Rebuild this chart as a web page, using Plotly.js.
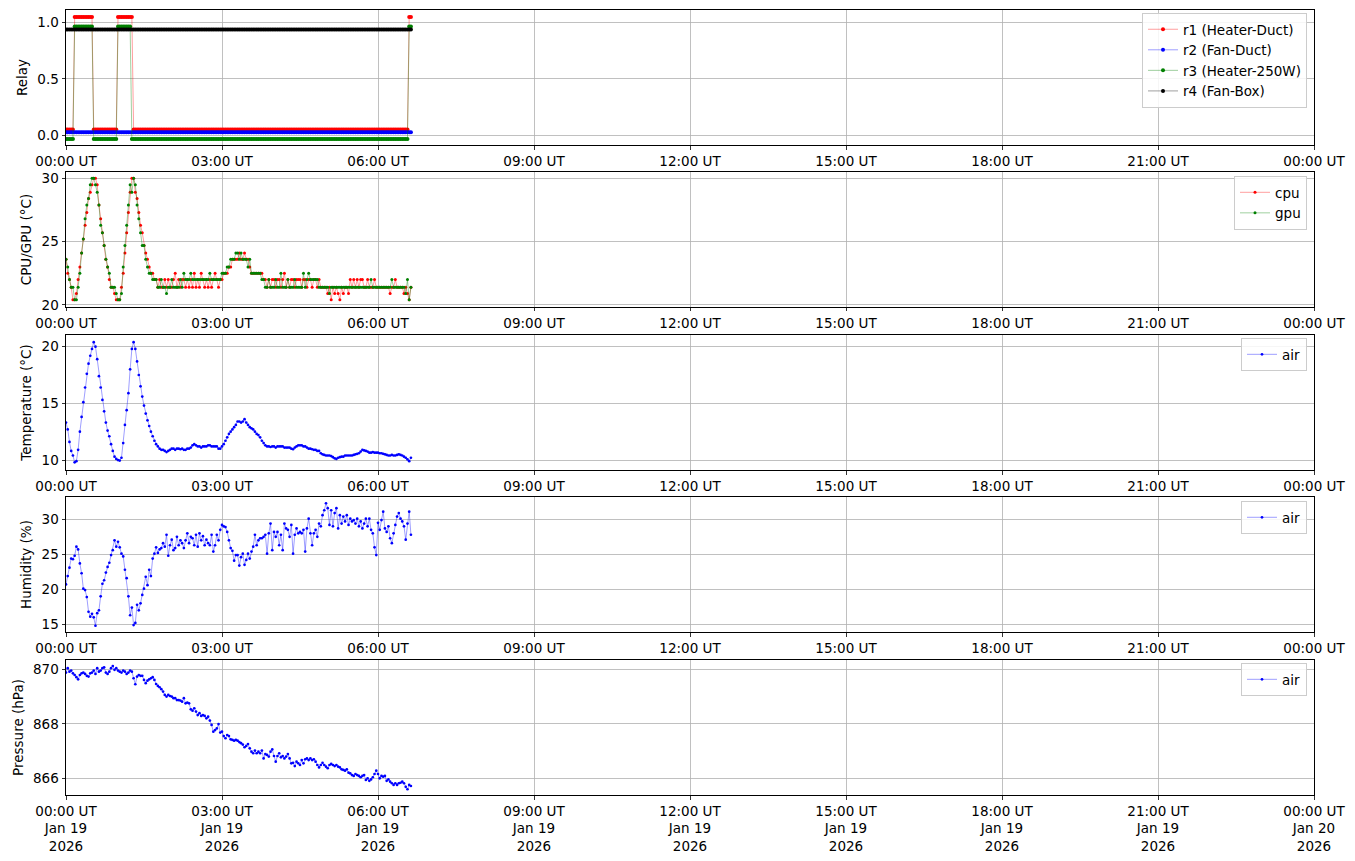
<!DOCTYPE html>
<html>
<head>
<meta charset="utf-8">
<script src="https://cdn.plot.ly/plotly-3.0.1.min.js"></script>
<style>
html,body{margin:0;padding:0;background:#fff;}
#chart{width:1355px;height:861px;}
</style>
</head>
<body>
<div id="chart"></div>
<script>
// ---- time base: one sample every 2 minutes from 2026-01-19 00:00 UT ----
const sampleStart = [2026, 0, 19, 0, 0];
const sampleStepMinutes = 2;
const sampleCount = 200;

// ---- x-axis ticks ----
const tickTimes = ['2026-01-19 00:00','2026-01-19 03:00','2026-01-19 06:00','2026-01-19 09:00','2026-01-19 12:00','2026-01-19 15:00','2026-01-19 18:00','2026-01-19 21:00','2026-01-20 00:00'];
const tickClock = ['00:00 UT','03:00 UT','06:00 UT','09:00 UT','12:00 UT','15:00 UT','18:00 UT','21:00 UT','00:00 UT'];
const tickDay = ['Jan 19','Jan 19','Jan 19','Jan 19','Jan 19','Jan 19','Jan 19','Jan 19','Jan 20'];
const tickYear = ['2026','2026','2026','2026','2026','2026','2026','2026','2026'];

// ---- relay states (0 = off, 1 = on) ----
const relayR1 = [
0,0,0,0,0,1,1,1,1,1,1,1,1,1,1,1,0,0,0,0,
0,0,0,0,0,0,0,0,0,0,1,1,1,1,1,1,1,1,1,0,
0,0,0,0,0,0,0,0,0,0,0,0,0,0,0,0,0,0,0,0,
0,0,0,0,0,0,0,0,0,0,0,0,0,0,0,0,0,0,0,0,
0,0,0,0,0,0,0,0,0,0,0,0,0,0,0,0,0,0,0,0,
0,0,0,0,0,0,0,0,0,0,0,0,0,0,0,0,0,0,0,0,
0,0,0,0,0,0,0,0,0,0,0,0,0,0,0,0,0,0,0,0,
0,0,0,0,0,0,0,0,0,0,0,0,0,0,0,0,0,0,0,0,
0,0,0,0,0,0,0,0,0,0,0,0,0,0,0,0,0,0,0,0,
0,0,0,0,0,0,0,0,0,0,0,0,0,0,0,0,0,0,1,1];
const relayR2 = [
0,0,0,0,0,0,0,0,0,0,0,0,0,0,0,0,0,0,0,0,
0,0,0,0,0,0,0,0,0,0,0,0,0,0,0,0,0,0,0,0,
0,0,0,0,0,0,0,0,0,0,0,0,0,0,0,0,0,0,0,0,
0,0,0,0,0,0,0,0,0,0,0,0,0,0,0,0,0,0,0,0,
0,0,0,0,0,0,0,0,0,0,0,0,0,0,0,0,0,0,0,0,
0,0,0,0,0,0,0,0,0,0,0,0,0,0,0,0,0,0,0,0,
0,0,0,0,0,0,0,0,0,0,0,0,0,0,0,0,0,0,0,0,
0,0,0,0,0,0,0,0,0,0,0,0,0,0,0,0,0,0,0,0,
0,0,0,0,0,0,0,0,0,0,0,0,0,0,0,0,0,0,0,0,
0,0,0,0,0,0,0,0,0,0,0,0,0,0,0,0,0,0,0,0];
const relayR3 = [
0,0,0,0,0,1,1,1,1,1,1,1,1,1,1,1,0,0,0,0,
0,0,0,0,0,0,0,0,0,0,1,1,1,1,1,1,1,1,0,0,
0,0,0,0,0,0,0,0,0,0,0,0,0,0,0,0,0,0,0,0,
0,0,0,0,0,0,0,0,0,0,0,0,0,0,0,0,0,0,0,0,
0,0,0,0,0,0,0,0,0,0,0,0,0,0,0,0,0,0,0,0,
0,0,0,0,0,0,0,0,0,0,0,0,0,0,0,0,0,0,0,0,
0,0,0,0,0,0,0,0,0,0,0,0,0,0,0,0,0,0,0,0,
0,0,0,0,0,0,0,0,0,0,0,0,0,0,0,0,0,0,0,0,
0,0,0,0,0,0,0,0,0,0,0,0,0,0,0,0,0,0,0,0,
0,0,0,0,0,0,0,0,0,0,0,0,0,0,0,0,0,0,1,1];
const relayR4 = [
1,1,1,1,1,1,1,1,1,1,1,1,1,1,1,1,1,1,1,1,
1,1,1,1,1,1,1,1,1,1,1,1,1,1,1,1,1,1,1,1,
1,1,1,1,1,1,1,1,1,1,1,1,1,1,1,1,1,1,1,1,
1,1,1,1,1,1,1,1,1,1,1,1,1,1,1,1,1,1,1,1,
1,1,1,1,1,1,1,1,1,1,1,1,1,1,1,1,1,1,1,1,
1,1,1,1,1,1,1,1,1,1,1,1,1,1,1,1,1,1,1,1,
1,1,1,1,1,1,1,1,1,1,1,1,1,1,1,1,1,1,1,1,
1,1,1,1,1,1,1,1,1,1,1,1,1,1,1,1,1,1,1,1,
1,1,1,1,1,1,1,1,1,1,1,1,1,1,1,1,1,1,1,1,
1,1,1,1,1,1,1,1,1,1,1,1,1,1,1,1,1,1,1,1];
const relayNames = ['r1 (Heater-Duct)','r2 (Fan-Duct)','r3 (Heater-250W)','r4 (Fan-Box)'];

// ---- CPU / GPU temperature (°C) ----
const cpuTemp = [
23.6,22.5,22.0,21.4,20.4,20.4,20.9,22.0,23.0,24.1, 25.2,26.3,27.3,28.4,28.9,29.5,30.0,30.0,29.5,27.9,
26.8,25.7,24.7,23.6,23.0,22.0,21.4,21.4,20.9,20.4, 20.4,20.4,21.4,22.5,24.1,25.7,27.3,28.9,30.0,30.0,
28.9,28.4,27.3,26.3,25.7,24.7,24.1,23.6,23.0,22.5, 22.5,22.0,22.0,21.4,22.0,21.4,21.4,22.0,21.4,22.0,
21.4,21.4,22.0,22.5,21.4,22.0,21.4,22.0,22.0,21.4, 22.0,21.4,22.0,21.4,22.5,21.4,22.0,21.4,22.5,22.0,
21.4,22.0,21.4,22.0,21.4,22.0,22.5,22.0,21.4,22.0, 22.0,22.5,22.5,22.5,23.0,23.0,23.6,23.6,23.6,23.6,
24.1,23.6,23.6,24.1,23.6,23.6,23.0,22.5,22.5,22.5, 22.5,22.5,22.5,22.5,22.0,22.0,21.4,22.0,21.4,22.0,
22.0,21.4,22.0,22.0,21.4,22.0,22.5,21.4,22.0,21.4, 22.0,22.0,21.4,22.0,22.0,22.0,21.4,22.0,22.0,21.4,
22.0,22.0,21.4,22.0,22.0,21.4,22.0,21.4,21.4,21.4, 21.4,20.9,21.4,20.4,21.4,20.9,21.4,20.9,20.4,21.4,
20.9,21.4,21.4,20.9,22.0,21.4,22.0,21.4,22.0,21.4, 22.0,22.0,21.4,21.4,22.0,21.4,21.4,21.4,22.0,21.4,
21.4,21.4,21.4,21.4,21.4,21.4,21.4,20.9,21.4,21.4, 22.0,21.4,21.4,21.4,21.4,20.9,21.4,20.9,20.4,21.4];
const gpuTemp = [
23.6,23.0,22.0,21.4,21.4,20.4,20.4,21.4,22.5,24.1, 25.2,26.8,27.9,28.4,29.5,30.0,30.0,29.5,28.9,27.9,
26.3,25.7,24.7,23.6,23.0,22.5,21.4,21.4,21.4,20.9, 20.4,20.4,20.9,23.0,24.7,26.3,27.9,29.5,28.9,30.0,
29.5,27.9,26.8,25.7,24.7,24.7,23.6,23.0,22.5,22.5, 22.0,22.0,22.0,21.4,21.4,22.0,21.4,21.4,20.9,21.4,
21.4,22.0,21.4,21.4,21.4,21.4,22.0,21.4,22.5,22.0, 22.0,22.0,22.5,22.0,22.0,22.0,22.0,22.0,22.0,22.0,
22.0,22.0,22.0,22.5,22.0,22.0,22.0,22.0,22.0,22.0, 22.5,22.5,22.5,23.0,23.0,23.6,23.6,23.6,24.1,24.1,
23.6,24.1,23.6,23.6,23.6,23.0,23.6,22.5,22.5,22.5, 22.5,22.5,22.5,22.0,22.0,21.4,21.4,22.0,21.4,21.4,
21.4,22.0,21.4,21.4,22.5,21.4,21.4,21.4,22.0,21.4, 21.4,21.4,22.0,21.4,21.4,21.4,21.4,22.5,21.4,22.0,
22.5,22.0,22.0,22.0,22.0,22.0,21.4,21.4,21.4,21.4, 21.4,21.4,20.9,21.4,21.4,21.4,21.4,21.4,21.4,21.4,
21.4,21.4,21.4,21.4,21.4,21.4,21.4,21.4,21.4,21.4, 21.4,21.4,21.4,21.4,21.4,21.4,22.0,21.4,21.4,21.4,
21.4,21.4,21.4,21.4,21.4,21.4,21.4,21.4,22.0,21.4, 21.4,21.4,21.4,21.4,21.4,21.4,20.9,22.0,20.4,21.4];

// ---- air temperature (°C) ----
const airTemp = [
13.3,12.7,11.6,10.8,10.4,9.8,9.9,10.9,12.5,13.8, 15.1,16.4,17.6,18.5,19.2,19.8,20.4,20.0,18.9,17.4,
16.4,15.3,14.3,13.3,12.6,12.1,11.4,10.8,10.3,10.1, 10.0,9.95,10.2,11.5,13.1,14.4,15.9,18.0,19.8,20.4,
19.8,18.7,17.5,16.5,15.6,14.8,14.1,13.5,13.0,12.5, 12.1,11.7,11.4,11.2,11.0,10.9,10.9,10.8,10.7,10.8,
10.9,11.0,11.0,10.9,11.0,11.0,10.95,11.0,10.9,10.9, 11.0,11.0,11.1,11.3,11.4,11.3,11.2,11.2,11.1,11.2,
11.2,11.2,11.3,11.3,11.2,11.2,11.2,11.2,11.0,11.0, 11.2,11.4,11.7,12.0,12.3,12.5,12.7,12.9,13.1,13.4,
13.4,13.3,13.4,13.6,13.3,13.1,12.9,12.8,12.7,12.5, 12.3,12.2,12.0,11.7,11.5,11.3,11.2,11.2,11.15,11.2,
11.2,11.1,11.2,11.2,11.2,11.2,11.1,11.1,11.1,11.1, 11.0,10.95,11.1,11.2,11.3,11.3,11.3,11.2,11.2,11.1,
11.0,11.0,10.95,10.9,10.9,10.8,10.8,10.6,10.5,10.45, 10.4,10.4,10.4,10.35,10.25,10.15,10.1,10.2,10.25,10.3,
10.3,10.4,10.4,10.4,10.4,10.4,10.45,10.5,10.55,10.6, 10.75,10.9,10.85,10.8,10.75,10.65,10.65,10.7,10.65,10.65,
10.65,10.6,10.6,10.55,10.5,10.45,10.4,10.4,10.45,10.4, 10.4,10.45,10.5,10.45,10.4,10.3,10.2,10.05,9.9,10.2];

// ---- air humidity (%) ----
const airHumidity = [
20.7,21.9,23.1,24.4,24.3,24.8,26.1,25.7,23.7,22.3, 20.1,19.9,18.9,16.8,16.1,16.5,16.0,14.8,16.6,17.0,
19.0,20.8,21.3,22.4,23.2,23.8,24.9,25.6,27.0,26.1, 26.8,26.0,25.1,24.7,22.8,21.6,19.0,16.3,17.4,14.9,
15.2,17.8,17.0,18.0,19.2,20.1,21.8,20.6,22.8,21.9, 24.4,25.1,26.0,25.2,25.7,25.9,26.6,26.1,27.8,24.8,
26.3,27.1,25.6,25.9,27.5,26.3,27.0,26.6,25.9,27.0, 28.0,26.6,27.5,27.3,26.3,27.8,26.1,28.0,27.0,27.6,
26.3,27.1,26.6,26.3,27.8,25.4,26.3,27.8,27.0,28.5, 29.2,29.0,28.9,28.2,27.0,25.9,25.5,24.1,24.9,24.9,
23.4,24.6,25.1,23.5,24.2,25.1,24.4,25.4,26.1,27.8, 26.3,27.0,27.3,27.3,27.5,27.8,25.1,28.0,29.4,25.6,
28.2,27.5,28.2,26.3,27.8,25.6,29.4,28.7,28.5,27.5, 29.2,25.1,27.8,28.7,28.0,28.2,28.0,28.5,25.4,28.7,
30.1,28.0,26.3,28.0,28.5,27.5,29.4,29.0,30.6,31.3, 32.3,31.6,29.2,31.3,29.0,30.9,31.6,28.7,30.6,29.4,
30.4,29.7,30.6,29.2,30.1,29.7,29.9,29.4,30.1,29.0, 29.7,28.7,29.4,30.1,29.0,30.1,28.5,28.0,26.0,24.9,
29.5,28.5,29.9,31.1,28.7,28.2,29.0,27.3,26.6,28.0, 29.2,30.4,30.9,30.1,29.7,29.0,27.1,29.4,31.1,27.8];

// ---- air pressure (hPa) ----
const airPressure = [
869.88,870.04,869.91,869.95,869.85,869.79,869.71,869.63,869.79,869.85, 869.88,869.83,869.76,869.73,869.85,869.88,869.95,869.83,870.04,869.91,
869.95,870.04,870.07,869.88,869.83,869.91,870.04,870.12,869.98,870.04, 869.95,869.91,869.88,869.95,869.91,869.83,869.88,869.95,869.91,869.67,
869.45,869.73,869.79,869.76,869.76,869.61,869.49,869.58,869.63,869.67, 869.71,869.61,869.46,869.39,869.34,869.27,869.18,869.06,869.00,869.06,
869.02,869.00,868.94,868.94,868.87,868.87,868.85,868.81,868.94,868.75, 868.78,868.75,868.53,868.48,868.57,868.45,868.32,868.39,868.29,868.32,
868.29,868.20,868.26,868.12,867.96,867.71,867.77,867.83,867.99,867.68, 867.71,867.55,867.47,867.59,867.55,867.43,867.41,867.38,867.41,867.38,
867.33,867.29,867.24,867.14,867.19,867.26,867.10,866.98,866.92,867.02, 866.92,866.98,866.92,867.02,866.73,866.89,866.86,866.80,866.98,867.06,
866.82,866.61,866.82,866.92,866.77,866.82,866.73,866.80,866.89,866.73, 866.55,866.57,866.45,866.61,866.55,866.49,866.67,866.55,866.70,866.73,
866.67,866.73,866.67,866.70,866.61,866.49,866.40,866.49,866.57,866.49, 866.43,866.37,866.49,866.53,866.49,866.45,866.49,866.43,866.40,866.33,
866.31,866.28,866.33,866.21,866.18,866.12,866.09,866.16,866.12,866.09, 866.04,866.09,866.12,865.94,866.00,865.91,865.96,866.04,866.16,866.28,
866.16,866.00,866.09,866.06,866.09,865.91,865.96,865.88,865.82,865.76, 865.82,865.76,865.82,865.84,865.88,865.82,865.69,865.60,865.76,865.72];

// ---------------------------------------------------------------
function pad(n){ return (n < 10 ? '0' : '') + n; }
function sampleTimes(n){
  const out = [];
  for (let i = 0; i < n; i++) {
    const d = new Date(Date.UTC(sampleStart[0], sampleStart[1], sampleStart[2], sampleStart[3], sampleStart[4] + i * sampleStepMinutes));
    out.push(d.getUTCFullYear() + '-' + pad(d.getUTCMonth() + 1) + '-' + pad(d.getUTCDate()) + ' ' + pad(d.getUTCHours()) + ':' + pad(d.getUTCMinutes()) + ':00');
  }
  return out;
}
const t = sampleTimes(sampleCount);

// vertical display offsets so the overlapping relay lines stay visible
const relayDisplayOffset = [0.05, 0.025, -0.035, -0.06];
const relayColors = ['#ff0000', '#0000ff', '#008000', '#000000'];
const relayLineColors = ['rgba(255,0,0,0.55)', 'rgba(0,0,255,0.55)', 'rgba(0,128,0,0.55)', 'rgba(0,0,0,0.55)'];

const FONT = 'DejaVu Sans, Liberation Sans, sans-serif';
const FS = 13.5;

function series(x, y, name, color, lineColor, axisIdx, legendName, msize) {
  return {
    type: 'scatter', mode: 'lines+markers', x: x, y: y, name: name,
    xaxis: axisIdx === 1 ? 'x' : 'x' + axisIdx,
    yaxis: axisIdx === 1 ? 'y' : 'y' + axisIdx,
    legend: legendName,
    line: { color: lineColor, width: 0.7 },
    marker: { color: color, size: msize, line: { width: 0 } },
    hoverinfo: 'x+y+name'
  };
}

const relays = [relayR1, relayR2, relayR3, relayR4];
const traces = [];
relays.forEach((r, k) => {
  traces.push(series(t, r.map(v => v + relayDisplayOffset[k]), relayNames[k], relayColors[k], relayLineColors[k], 1, 'legend', 4));
});
traces.push(series(t, cpuTemp, 'cpu', '#ff0000', 'rgba(255,0,0,0.55)', 2, 'legend2', 3));
traces.push(series(t, gpuTemp, 'gpu', '#008000', 'rgba(0,128,0,0.55)', 2, 'legend2', 3));
traces.push(series(t, airTemp, 'air', '#0000ff', 'rgba(0,0,255,0.55)', 3, 'legend3', 2.7));
traces.push(series(t, airHumidity, 'air', '#0000ff', 'rgba(0,0,255,0.55)', 4, 'legend4', 2.7));
traces.push(series(t, airPressure, 'air', '#0000ff', 'rgba(0,0,255,0.55)', 5, 'legend5', 2.7));

const bottomTicks = tickClock.map((c, i) => c + '<br>' + tickDay[i] + '<br>' + tickYear[i]);

function xaxis(domainAnchor, bottom) {
  return {
    type: 'date',
    range: ['2026-01-19 00:00:00', '2026-01-20 00:00:00'],
    tickmode: 'array', tickvals: tickTimes, ticktext: bottom ? bottomTicks : tickClock,
    anchor: domainAnchor,
    showgrid: true, gridcolor: '#b0b0b0', gridwidth: 0.8,
    showline: true, linecolor: '#000', linewidth: 1, mirror: true,
    ticks: 'outside', ticklen: 3.5, tickwidth: 0.8, tickcolor: '#000',
    tickfont: { family: FONT, size: FS, color: '#000' },
    zeroline: false, fixedrange: true
  };
}
function yaxis(domain, range, tickvals, ticktext, title, anchor) {
  return {
    domain: domain, range: range, anchor: anchor,
    tickmode: 'array', tickvals: tickvals, ticktext: ticktext,
    showgrid: true, gridcolor: '#b0b0b0', gridwidth: 0.8,
    showline: true, linecolor: '#000', linewidth: 1, mirror: true,
    ticks: 'outside', ticklen: 3.5, tickwidth: 0.8, tickcolor: '#000',
    tickfont: { family: FONT, size: FS, color: '#000' },
    title: { text: title, font: { family: FONT, size: FS, color: '#000' }, standoff: 6 },
    zeroline: false, fixedrange: true
  };
}
function legendBox(y) {
  return {
    x: 0.9944, y: y, xanchor: 'right', yanchor: 'top',
    bgcolor: 'rgba(255,255,255,0.85)', bordercolor: '#cccccc', borderwidth: 1,
    font: { family: FONT, size: FS, color: '#000' },
    tracegroupgap: 0, itemwidth: 30
  };
}

const layout = {
  width: 1355, height: 861,
  margin: { l: 66, r: 41, t: 10, b: 66 },
  paper_bgcolor: '#fff', plot_bgcolor: '#fff',
  font: { family: FONT, size: FS, color: '#000' },
  showlegend: true,
  xaxis: xaxis('y', false),
  xaxis2: xaxis('y2', false),
  xaxis3: xaxis('y3', false),
  xaxis4: xaxis('y4', false),
  xaxis5: xaxis('y5', true),
  yaxis: yaxis([0.828, 1.0], [-0.089, 1.113], [0, 0.5, 1], ['0.0', '0.5', '1.0'], 'Relay', 'x'),
  yaxis2: yaxis([0.6217, 0.7936], [19.84, 30.5], [20, 25, 30], ['20', '25', '30'], 'CPU/GPU (°C)', 'x2'),
  yaxis3: yaxis([0.414, 0.586], [9.12, 21.03], [10, 15, 20], ['10', '15', '20'], 'Temperature (°C)', 'x3'),
  yaxis4: yaxis([0.2076, 0.3796], [13.9, 33.19], [15, 20, 25, 30], ['15', '20', '25', '30'], 'Humidity (%)', 'x4'),
  yaxis5: yaxis([0, 0.172], [865.39, 870.34], [866, 868, 870], ['866', '868', '870'], 'Pressure (hPa)', 'x5'),
  legend: legendBox(0.9962),
  legend2: legendBox(0.7885),
  legend3: legendBox(0.5821),
  legend4: legendBox(0.3745),
  legend5: legendBox(0.1681)
};

Plotly.newPlot('chart', traces, layout, { displayModeBar: false, staticPlot: true });
</script>
</body>
</html>
